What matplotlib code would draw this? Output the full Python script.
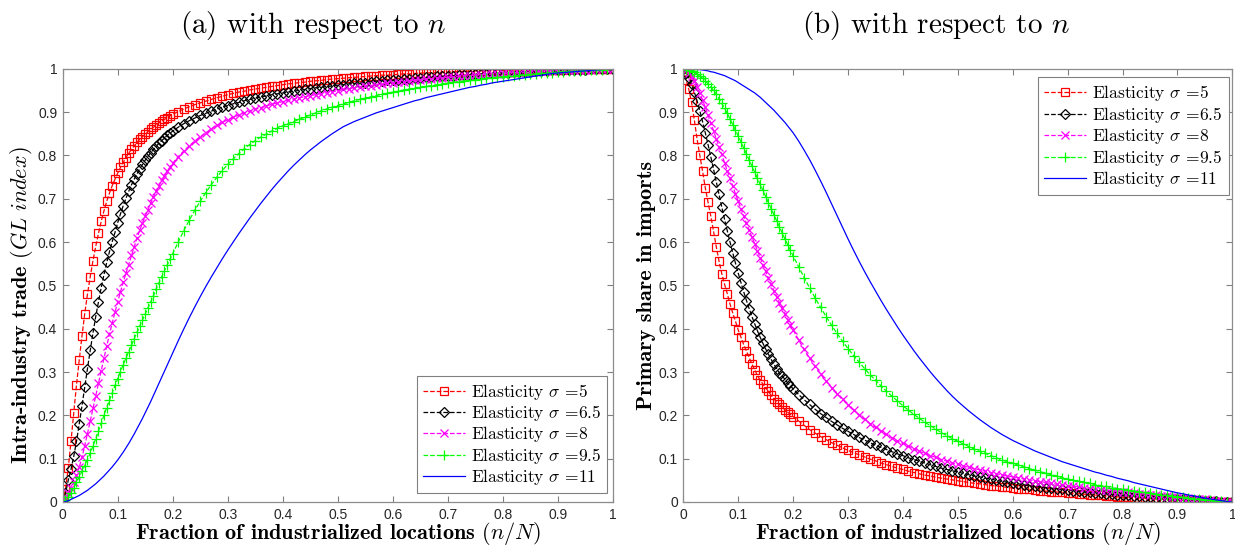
import numpy as np
import matplotlib
matplotlib.use("Agg")
import matplotlib.pyplot as plt

# sampling grid: fine steps where curves are steep, then 0.01
x_frac = np.round(np.concatenate([np.arange(0, 0.2001, 0.005),
                                  np.arange(0.21, 1.0001, 0.01)]), 3)

sigmas = ["5", "6.5", "8", "9.5", "11"]

# (a) intra-industry trade (GL index)
a_s5 = [0, 0.030, 0.078, 0.140, 0.205, 0.270, 0.328, 0.383, 0.435, 0.480, 0.520,
        0.557, 0.590, 0.620, 0.648, 0.672, 0.694, 0.713, 0.730, 0.745, 0.759,
        0.772, 0.784, 0.795, 0.805, 0.814, 0.822, 0.830, 0.837, 0.843, 0.849,
        0.855, 0.860, 0.865, 0.870, 0.875, 0.879, 0.883, 0.887, 0.891, 0.895,
        0.901, 0.907, 0.912, 0.917, 0.921, 0.925, 0.929, 0.933, 0.936, 0.940,
        0.943, 0.946, 0.948, 0.951, 0.953, 0.955, 0.957, 0.959, 0.961, 0.963,
        0.965, 0.966, 0.968, 0.969, 0.971, 0.972, 0.973, 0.975, 0.976, 0.977,
        0.978, 0.979, 0.980, 0.981, 0.982, 0.983, 0.984, 0.985, 0.985, 0.986,
        0.987, 0.988, 0.988, 0.989, 0.990, 0.990, 0.991, 0.991, 0.992, 0.992,
        0.993, 0.993, 0.994, 0.994, 0.995, 0.995, 0.995, 0.996, 0.996, 0.996,
        0.997, 0.997, 0.997, 0.997, 0.997, 0.998, 0.998, 0.998, 0.998, 0.998,
        0.998, 0.999, 0.999, 0.999, 0.999, 0.999, 1.0, 1.0, 1.0, 1.0]
a_s65 = [0, 0.020, 0.050, 0.075, 0.105, 0.140, 0.180, 0.222, 0.265, 0.308, 0.350,
         0.390, 0.428, 0.462, 0.495, 0.525, 0.553, 0.578, 0.601, 0.622, 0.645,
         0.665, 0.684, 0.701, 0.717, 0.732, 0.745, 0.757, 0.769, 0.779, 0.789,
         0.798, 0.806, 0.814, 0.821, 0.828, 0.834, 0.840, 0.846, 0.851, 0.856,
         0.865, 0.873, 0.880, 0.886, 0.892, 0.897, 0.902, 0.907, 0.911, 0.915,
         0.919, 0.922, 0.926, 0.929, 0.932, 0.935, 0.937, 0.940, 0.942, 0.944,
         0.946, 0.948, 0.950, 0.952, 0.954, 0.956, 0.957, 0.959, 0.960, 0.962,
         0.963, 0.965, 0.966, 0.967, 0.968, 0.970, 0.971, 0.972, 0.973, 0.974,
         0.975, 0.976, 0.977, 0.978, 0.979, 0.980, 0.981, 0.982, 0.982, 0.983,
         0.984, 0.985, 0.986, 0.986, 0.987, 0.988, 0.988, 0.989, 0.990, 0.990,
         0.991, 0.992, 0.992, 0.993, 0.993, 0.994, 0.995, 0.995, 0.996, 0.996,
         0.997, 0.997, 0.997, 0.998, 0.998, 0.999, 0.999, 0.999, 1.0, 1.0]
a_s8 = [0, 0.010, 0.020, 0.032, 0.046, 0.062, 0.080, 0.103, 0.130, 0.158, 0.187,
        0.216, 0.245, 0.274, 0.303, 0.332, 0.360, 0.387, 0.413, 0.438, 0.462,
        0.485, 0.507, 0.528, 0.548, 0.569, 0.589, 0.609, 0.627, 0.644, 0.660,
        0.675, 0.690, 0.704, 0.717, 0.730, 0.742, 0.753, 0.763, 0.773, 0.782,
        0.797, 0.810, 0.822, 0.833, 0.843, 0.852, 0.861, 0.869, 0.876, 0.882,
        0.888, 0.893, 0.898, 0.902, 0.906, 0.910, 0.914, 0.918, 0.921, 0.924,
        0.927, 0.930, 0.933, 0.935, 0.938, 0.940, 0.942, 0.945, 0.947, 0.949,
        0.952, 0.954, 0.956, 0.958, 0.959, 0.961, 0.963, 0.964, 0.966, 0.967,
        0.969, 0.970, 0.972, 0.973, 0.974, 0.976, 0.977, 0.978, 0.979, 0.980,
        0.981, 0.982, 0.983, 0.984, 0.985, 0.986, 0.987, 0.988, 0.988, 0.989,
        0.990, 0.991, 0.991, 0.992, 0.993, 0.993, 0.994, 0.995, 0.995, 0.996,
        0.996, 0.997, 0.997, 0.998, 0.998, 0.998, 0.999, 0.999, 1.0, 1.0]
a_s95 = [0, 0.004, 0.011, 0.021, 0.033, 0.046, 0.058, 0.071, 0.084, 0.098, 0.113,
         0.129, 0.146, 0.164, 0.182, 0.200, 0.218, 0.235, 0.252, 0.269, 0.285,
         0.301, 0.317, 0.332, 0.347, 0.362, 0.377, 0.392, 0.406, 0.420, 0.434,
         0.448, 0.462, 0.476, 0.492, 0.506, 0.520, 0.534, 0.547, 0.560, 0.573,
         0.600, 0.626, 0.650, 0.673, 0.694, 0.714, 0.732, 0.749, 0.765, 0.779,
         0.792, 0.804, 0.815, 0.825, 0.834, 0.842, 0.849, 0.856, 0.862, 0.868,
         0.873, 0.878, 0.883, 0.888, 0.893, 0.898, 0.903, 0.907, 0.911, 0.915,
         0.919, 0.922, 0.926, 0.929, 0.932, 0.935, 0.938, 0.941, 0.943, 0.946,
         0.948, 0.951, 0.953, 0.955, 0.957, 0.959, 0.961, 0.963, 0.965, 0.967,
         0.969, 0.970, 0.972, 0.973, 0.975, 0.976, 0.978, 0.979, 0.980, 0.981,
         0.983, 0.984, 0.985, 0.986, 0.987, 0.988, 0.989, 0.990, 0.991, 0.992,
         0.993, 0.994, 0.994, 0.995, 0.996, 0.997, 0.998, 0.998, 0.999, 1.0]
a_s11 = [0, 0.001, 0.003, 0.006, 0.009, 0.012, 0.015, 0.019, 0.023, 0.027, 0.032,
         0.037, 0.042, 0.048, 0.054, 0.060, 0.067, 0.074, 0.081, 0.089, 0.097,
         0.106, 0.115, 0.125, 0.135, 0.146, 0.157, 0.169, 0.181, 0.193, 0.206,
         0.219, 0.232, 0.246, 0.260, 0.274, 0.288, 0.302, 0.316, 0.330, 0.344,
         0.372, 0.399, 0.425, 0.450, 0.474, 0.497, 0.519, 0.540, 0.561, 0.581,
         0.600, 0.619, 0.637, 0.655, 0.672, 0.689, 0.705, 0.721, 0.736, 0.750,
         0.764, 0.777, 0.789, 0.801, 0.812, 0.822, 0.832, 0.841, 0.850, 0.858,
         0.866, 0.872, 0.878, 0.883, 0.888, 0.893, 0.898, 0.902, 0.906, 0.910,
         0.914, 0.918, 0.922, 0.926, 0.929, 0.933, 0.936, 0.939, 0.942, 0.945,
         0.948, 0.951, 0.954, 0.957, 0.959, 0.962, 0.964, 0.967, 0.969, 0.971,
         0.973, 0.975, 0.977, 0.979, 0.981, 0.983, 0.985, 0.987, 0.989, 0.990,
         0.991, 0.992, 0.993, 0.994, 0.995, 0.996, 0.997, 0.998, 0.999, 1.0]

# (b) primary share in imports
b_s5 = [1.0, 0.975, 0.952, 0.922, 0.882, 0.838, 0.800, 0.764, 0.725, 0.692, 0.660,
        0.625, 0.589, 0.556, 0.527, 0.503, 0.481, 0.457, 0.436, 0.417, 0.397,
        0.380, 0.363, 0.348, 0.333, 0.318, 0.305, 0.292, 0.281, 0.272, 0.263,
        0.255, 0.246, 0.238, 0.231, 0.225, 0.219, 0.213, 0.207, 0.202, 0.197,
        0.187, 0.177, 0.167, 0.159, 0.151, 0.144, 0.137, 0.131, 0.125, 0.119,
        0.114, 0.109, 0.104, 0.099, 0.095, 0.090, 0.086, 0.082, 0.078, 0.075,
        0.071, 0.068, 0.065, 0.062, 0.060, 0.057, 0.055, 0.053, 0.051, 0.049,
        0.047, 0.045, 0.043, 0.042, 0.040, 0.038, 0.037, 0.035, 0.034, 0.032,
        0.031, 0.030, 0.029, 0.027, 0.026, 0.025, 0.024, 0.023, 0.022, 0.021,
        0.020, 0.019, 0.018, 0.017, 0.016, 0.015, 0.014, 0.013, 0.012, 0.011,
        0.011, 0.010, 0.009, 0.009, 0.008, 0.007, 0.007, 0.006, 0.005, 0.005,
        0.004, 0.004, 0.003, 0.003, 0.002, 0.002, 0.001, 0.001, 0.001, 0.0]
b_s65 = [1.0, 0.990, 0.979, 0.964, 0.946, 0.926, 0.903, 0.878, 0.852, 0.825, 0.797,
         0.768, 0.739, 0.710, 0.681, 0.653, 0.626, 0.600, 0.575, 0.551, 0.528,
         0.506, 0.485, 0.465, 0.446, 0.428, 0.411, 0.395, 0.380, 0.366, 0.353,
         0.341, 0.329, 0.318, 0.308, 0.298, 0.291, 0.283, 0.275, 0.268, 0.261,
         0.248, 0.236, 0.225, 0.214, 0.204, 0.195, 0.186, 0.178, 0.170, 0.163,
         0.156, 0.149, 0.143, 0.137, 0.131, 0.126, 0.121, 0.116, 0.111, 0.107,
         0.102, 0.098, 0.094, 0.090, 0.086, 0.082, 0.078, 0.075, 0.072, 0.069,
         0.066, 0.063, 0.060, 0.058, 0.055, 0.053, 0.050, 0.048, 0.046, 0.044,
         0.042, 0.040, 0.038, 0.036, 0.035, 0.033, 0.032, 0.030, 0.029, 0.027,
         0.026, 0.025, 0.023, 0.022, 0.021, 0.020, 0.019, 0.018, 0.017, 0.016,
         0.015, 0.014, 0.013, 0.012, 0.011, 0.010, 0.009, 0.009, 0.008, 0.007,
         0.006, 0.005, 0.005, 0.004, 0.003, 0.002, 0.002, 0.001, 0.001, 0.0]
b_s8 = [1.0, 0.997, 0.991, 0.982, 0.971, 0.958, 0.944, 0.928, 0.911, 0.893, 0.875,
        0.857, 0.838, 0.820, 0.802, 0.783, 0.765, 0.747, 0.729, 0.711, 0.694,
        0.677, 0.660, 0.643, 0.627, 0.611, 0.596, 0.580, 0.564, 0.547, 0.532,
        0.517, 0.502, 0.488, 0.474, 0.460, 0.447, 0.434, 0.421, 0.409, 0.397,
        0.374, 0.352, 0.332, 0.313, 0.295, 0.279, 0.264, 0.250, 0.237, 0.224,
        0.212, 0.201, 0.191, 0.181, 0.172, 0.164, 0.156, 0.148, 0.141, 0.135,
        0.129, 0.123, 0.117, 0.112, 0.107, 0.103, 0.098, 0.094, 0.090, 0.087,
        0.083, 0.080, 0.077, 0.074, 0.071, 0.068, 0.065, 0.063, 0.060, 0.058,
        0.056, 0.053, 0.051, 0.049, 0.047, 0.045, 0.043, 0.041, 0.040, 0.038,
        0.036, 0.035, 0.033, 0.031, 0.030, 0.028, 0.027, 0.026, 0.024, 0.023,
        0.022, 0.020, 0.019, 0.018, 0.017, 0.015, 0.014, 0.013, 0.012, 0.011,
        0.010, 0.009, 0.008, 0.007, 0.006, 0.004, 0.003, 0.002, 0.001, 0.0]
b_s95 = [1.0, 0.999, 0.997, 0.995, 0.992, 0.988, 0.983, 0.978, 0.972, 0.965, 0.958,
         0.950, 0.941, 0.931, 0.920, 0.909, 0.897, 0.884, 0.871, 0.858, 0.845,
         0.831, 0.817, 0.803, 0.789, 0.775, 0.761, 0.747, 0.733, 0.719, 0.705,
         0.691, 0.677, 0.663, 0.649, 0.635, 0.621, 0.607, 0.594, 0.581, 0.568,
         0.543, 0.518, 0.494, 0.471, 0.449, 0.428, 0.408, 0.389, 0.371, 0.354,
         0.338, 0.323, 0.308, 0.294, 0.281, 0.268, 0.256, 0.244, 0.233, 0.222,
         0.212, 0.202, 0.193, 0.184, 0.176, 0.168, 0.160, 0.153, 0.146, 0.140,
         0.134, 0.128, 0.122, 0.117, 0.112, 0.107, 0.102, 0.097, 0.093, 0.089,
         0.085, 0.081, 0.077, 0.074, 0.070, 0.066, 0.063, 0.060, 0.056, 0.053,
         0.050, 0.048, 0.045, 0.043, 0.040, 0.038, 0.036, 0.033, 0.031, 0.029,
         0.027, 0.025, 0.024, 0.022, 0.020, 0.018, 0.017, 0.015, 0.014, 0.012,
         0.011, 0.010, 0.008, 0.007, 0.005, 0.004, 0.003, 0.002, 0.001, 0.0]
b_s11 = [1.0, 1.0, 1.0, 0.999, 0.999, 0.998, 0.998, 0.997, 0.996, 0.995, 0.993,
         0.992, 0.990, 0.988, 0.986, 0.984, 0.981, 0.978, 0.975, 0.972, 0.968,
         0.964, 0.960, 0.956, 0.952, 0.948, 0.944, 0.939, 0.934, 0.928, 0.922,
         0.916, 0.910, 0.904, 0.897, 0.890, 0.883, 0.876, 0.868, 0.860, 0.852,
         0.833, 0.812, 0.790, 0.766, 0.741, 0.715, 0.688, 0.661, 0.634, 0.607,
         0.581, 0.556, 0.532, 0.509, 0.487, 0.465, 0.444, 0.424, 0.404, 0.385,
         0.367, 0.349, 0.332, 0.316, 0.300, 0.285, 0.271, 0.257, 0.244, 0.232,
         0.221, 0.210, 0.200, 0.190, 0.181, 0.172, 0.164, 0.156, 0.149, 0.142,
         0.136, 0.130, 0.124, 0.118, 0.113, 0.108, 0.103, 0.098, 0.093, 0.089,
         0.085, 0.081, 0.077, 0.073, 0.069, 0.066, 0.062, 0.059, 0.055, 0.052,
         0.049, 0.045, 0.042, 0.039, 0.036, 0.033, 0.030, 0.027, 0.024, 0.021,
         0.019, 0.016, 0.014, 0.011, 0.009, 0.007, 0.005, 0.003, 0.001, 0.0]

ticks = np.round(np.arange(0, 1.01, 0.1), 1)
tick_labels = ["0"] + ["%.1f" % t for t in ticks[1:-1]] + ["1"]

styles = [dict(color="#ff0000", ls="--", marker="s", ms=6.0),
          dict(color="black", ls="--", marker="D", ms=5.2),
          dict(color="#ff00ff", ls="--", marker="x", ms=6.0),
          dict(color="#00ff00", ls="--", marker="+", ms=7.5),
          dict(color="#0000ff", ls="-", marker=None, ms=0)]

plt.rcParams["mathtext.fontset"] = "cm"
plt.rcParams["axes.unicode_minus"] = False

fig = plt.figure(figsize=(12.35, 5.46), dpi=100)
ax_a = fig.add_axes([0.0508, 0.0806, 0.4453, 0.7936])
ax_b = fig.add_axes([0.5533, 0.0806, 0.4446, 0.7936])

panels = [(ax_a, [a_s5, a_s65, a_s8, a_s95, a_s11], "lower right", (0.99, 0.02),
           r"Intra-industry trade $(GL\ index)$", 0.455),
          (ax_b, [b_s5, b_s65, b_s8, b_s95, b_s11], "upper right", (0.993, 0.98),
           r"Primary share in imports", 0.5)]

for ax, series, loc, anchor, ylab, ylab_y in panels:
    for ys, st, sg in zip(series, styles, sigmas):
        ax.plot(x_frac, ys, color=st["color"], ls=st["ls"], lw=0.9,
                marker=st["marker"], ms=st["ms"], mfc="none", mew=0.9,
                label=r"Elasticity $\sigma$ =" + sg)
    ax.set_xlim(0, 1)
    ax.set_ylim(0, 1)
    ax.set_xticks(ticks)
    ax.set_yticks(ticks)
    ax.set_xticklabels(tick_labels, family="Liberation Sans", fontsize=10, color="0.15")
    ax.set_yticklabels(tick_labels, family="Liberation Sans", fontsize=10, color="0.15")
    ax.tick_params(direction="in", top=True, right=True, length=4, width=0.8,
                   color="0.5", pad=4)
    for sp in ax.spines.values():
        sp.set_color("0.55")
        sp.set_linewidth(0.9)
    ax.set_xlabel(r"Fraction of industrialized locations $(n/N)$", family="cmb10",
                  fontsize=16, labelpad=-1)
    ax.set_ylabel(ylab, family="cmb10", fontsize=16, labelpad=2)
    ax.yaxis.label.set_y(ylab_y)
    leg = ax.legend(loc=loc, bbox_to_anchor=anchor, borderaxespad=0,
                    prop=dict(family="cmr10", size=12.5), fancybox=False,
                    framealpha=1, edgecolor="0.5", handlelength=2.4,
                    handletextpad=0.35, labelspacing=0.08, borderpad=0.35)
    leg.get_frame().set_linewidth(0.8)

fig.text(313 / 1235, 1 - 25 / 546, r"(a) with respect to $n$", family="cmr10",
         fontsize=21, ha="center", va="center")
fig.text(936 / 1235, 1 - 25 / 546, r"(b) with respect to $n$", family="cmr10",
         fontsize=21, ha="center", va="center")

fig.savefig("out.png", dpi=100)
